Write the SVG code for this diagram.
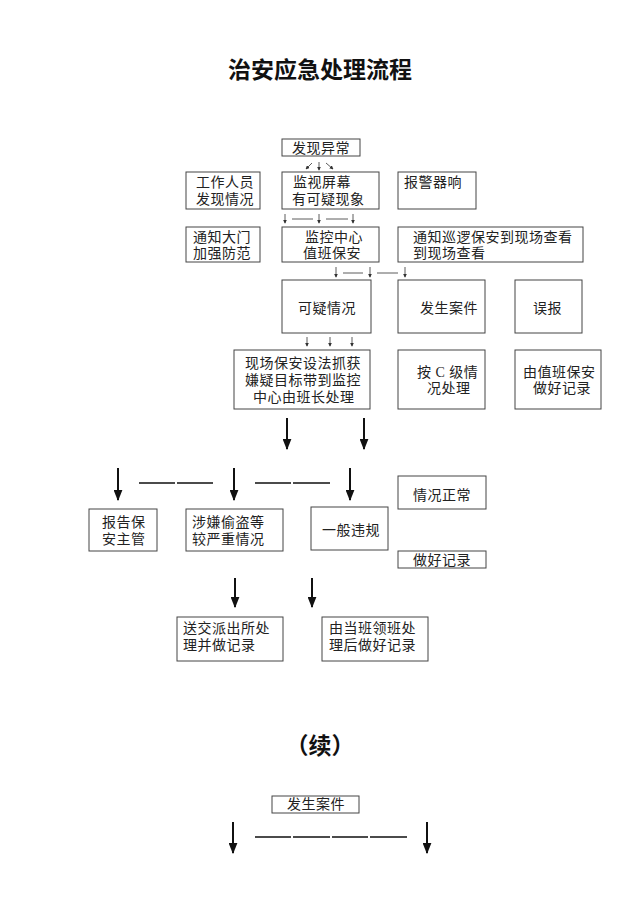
<svg xmlns="http://www.w3.org/2000/svg" width="640" height="905" viewBox="0 0 640 905">
<defs>
<style>
.bg{fill:#fff}
.box{fill:#fff;stroke:#444;stroke-width:1}
.t{font-family:"Liberation Serif","Noto Sans CJK SC",serif;font-size:14px;letter-spacing:0.5px;fill:#222}
.title{font-family:"Noto Sans CJK SC",sans-serif;font-size:23px;font-weight:bold;fill:#111}
.thin{stroke:#333;stroke-width:0.8;fill:none}
.big{stroke:#111;stroke-width:2;fill:none}
.dash{stroke:#111;stroke-width:1.6;fill:none}
</style>
<marker id="sa" viewBox="0 0 6 6" refX="5" refY="3" markerWidth="4" markerHeight="4" markerUnits="userSpaceOnUse" orient="auto"><path d="M0,0 L6,3 L0,6 z" fill="#333"/></marker>
<marker id="ba" viewBox="0 0 10 8" refX="9" refY="4" markerWidth="11" markerHeight="9" markerUnits="userSpaceOnUse" orient="auto"><path d="M0,0 L10,4 L0,8 z" fill="#111"/></marker>
</defs>
<rect class="bg" width="640" height="905"/>
<text class="title" x="320" y="78" text-anchor="middle">治安应急处理流程</text>

<g id="n1"><rect class="box" x="282" y="139" width="78" height="17"/><text class="t" x="292" y="153">发现异常</text></g>
<g id="n2"><rect class="box" x="186" y="172" width="74" height="37"/><text class="t" x="196" y="187">工作人员</text><text class="t" x="196" y="204">发现情况</text></g>
<g id="n3"><rect class="box" x="282" y="172" width="97" height="37"/><text class="t" x="293" y="187">监视屏幕</text><text class="t" x="292" y="204">有可疑现象</text></g>
<g id="n4"><rect class="box" x="398" y="172" width="78" height="37"/><text class="t" x="404" y="187">报警器响</text></g>
<g id="n5"><rect class="box" x="186" y="227" width="74" height="35"/><text class="t" x="193" y="242">通知大门</text><text class="t" x="193" y="258">加强防范</text></g>
<g id="n6"><rect class="box" x="282" y="227" width="97" height="35"/><text class="t" x="305" y="242">监控中心</text><text class="t" x="303" y="258">值班保安</text></g>
<g id="n7"><rect class="box" x="398" y="227" width="185" height="35"/><text class="t" x="413" y="242">通知巡逻保安到现场查看</text><text class="t" x="413" y="258">到现场查看</text></g>
<g id="n8"><rect class="box" x="282" y="280" width="89" height="53"/><text class="t" x="298" y="313">可疑情况</text></g>
<g id="n9"><rect class="box" x="398" y="280" width="87" height="53"/><text class="t" x="420" y="313">发生案件</text></g>
<g id="n10"><rect class="box" x="515" y="280" width="67" height="53"/><text class="t" x="533" y="313">误报</text></g>
<g id="n11"><rect class="box" x="234" y="350" width="136" height="59"/><text class="t" x="245" y="368">现场保安设法抓获</text><text class="t" x="245" y="385">嫌疑目标带到监控</text><text class="t" x="253" y="402">中心由班长处理</text></g>
<g id="n12"><rect class="box" x="398" y="350" width="87" height="59"/><text class="t" x="417" y="377">按 C 级情</text><text class="t" x="427" y="393">况处理</text></g>
<g id="n13"><rect class="box" x="515" y="350" width="86" height="59"/><text class="t" x="523" y="377">由值班保安</text><text class="t" x="533" y="393">做好记录</text></g>
<g id="n14"><rect class="box" x="398" y="476" width="88" height="33"/><text class="t" x="413" y="500">情况正常</text></g>
<g id="n15"><rect class="box" x="89" y="509" width="68" height="42"/><text class="t" x="102" y="527">报告保</text><text class="t" x="102" y="544">安主管</text></g>
<g id="n16"><rect class="box" x="186" y="509" width="97" height="42"/><text class="t" x="192" y="527">涉嫌偷盗等</text><text class="t" x="192" y="544">较严重情况</text></g>
<g id="n17"><rect class="box" x="311" y="507" width="77" height="43"/><text class="t" x="322" y="535">一般违规</text></g>
<g id="n18"><rect class="box" x="398" y="551" width="88" height="17"/><text class="t" x="413" y="565">做好记录</text></g>
<g id="n19"><rect class="box" x="177" y="617" width="106" height="44"/><text class="t" x="183" y="633">送交派出所处</text><text class="t" x="183" y="650">理并做记录</text></g>
<g id="n20"><rect class="box" x="322" y="617" width="106" height="44"/><text class="t" x="329" y="633">由当班领班处</text><text class="t" x="329" y="650">理后做好记录</text></g>
<text class="title" x="320" y="754" text-anchor="middle" font-size="21">（续）</text>
<g id="n21"><rect class="box" x="272" y="796" width="87" height="17"/><text class="t" x="287" y="809">发生案件</text></g>

<g id="connectors">
<path class="thin" d="M312,163 L306,169" marker-end="url(#sa)"/>
<path class="thin" d="M319,162 L319,170" marker-end="url(#sa)"/>
<path class="thin" d="M326,163 L333,169" marker-end="url(#sa)"/>
<path class="thin" d="M285,214 L285,223" marker-end="url(#sa)"/>
<path class="thin" d="M319,214 L319,223" marker-end="url(#sa)"/>
<path class="thin" d="M353,214 L353,223" marker-end="url(#sa)"/>
<path class="thin" d="M292,219 H313 M326,219 H348"/>
<path class="thin" d="M336,267 L336,277" marker-end="url(#sa)"/>
<path class="thin" d="M370,267 L370,277" marker-end="url(#sa)"/>
<path class="thin" d="M405,267 L405,277" marker-end="url(#sa)"/>
<path class="thin" d="M343,273 H363 M377,273 H398"/>
<path class="thin" d="M307,337 L307,346" marker-end="url(#sa)"/>
<path class="thin" d="M330,337 L330,346" marker-end="url(#sa)"/>
<path class="thin" d="M352,337 L352,346" marker-end="url(#sa)"/>
<path class="big" d="M287,418 V449" marker-end="url(#ba)"/>
<path class="big" d="M364,418 V449" marker-end="url(#ba)"/>
<path class="big" d="M118,468 V500" marker-end="url(#ba)"/>
<path class="big" d="M234,468 V500" marker-end="url(#ba)"/>
<path class="big" d="M350,468 V500" marker-end="url(#ba)"/>
<path class="dash" d="M139,483 H175 M177,483 H213 M255,483 H291 M293,483 H330"/>
<path class="big" d="M235,578 V607" marker-end="url(#ba)"/>
<path class="big" d="M312,578 V607" marker-end="url(#ba)"/>
<path class="big" d="M233,822 V853" marker-end="url(#ba)"/>
<path class="big" d="M427,822 V853" marker-end="url(#ba)"/>
<path class="dash" d="M255,837 H291 M293,837 H330 M332,837 H368 M370,837 H407"/>
</g>
</svg>
